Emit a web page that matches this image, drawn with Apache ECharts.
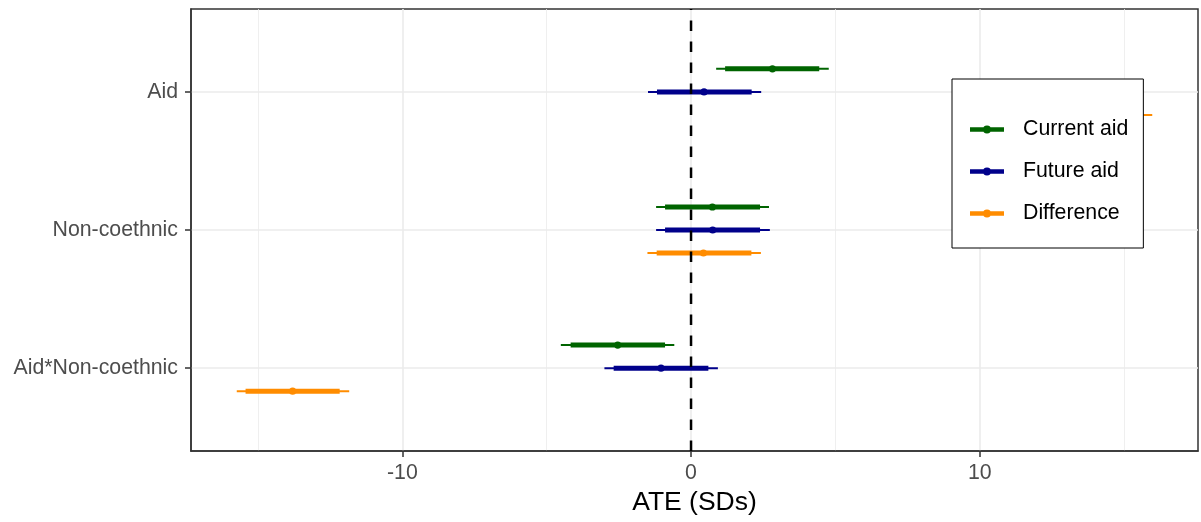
<!DOCTYPE html>
<html>
<head>
<meta charset="utf-8">
<script src="https://cdn.jsdelivr.net/npm/echarts@6/dist/echarts.min.js"></script>
<style>
  html, body { margin: 0; padding: 0; background: #fff; }
  #chart { width: 1201px; height: 522px; }
</style>
</head>
<body>
<div id="chart"></div>
<script>
// categories, top to bottom
const categories = ['Aid', 'Non-coethnic', 'Aid*Non-coethnic'];
const groups = ['Current aid', 'Future aid', 'Difference'];

// point estimates and intervals (wide = thin line, narrow = thick line)
const currentEst    = [2.82, 0.74, -2.54];
const currentLoWide = [0.87, -1.21, -4.51];
const currentHiWide = [4.77, 2.70, -0.58];
const currentLo     = [1.18, -0.90, -4.17];
const currentHi     = [4.44, 2.39, -0.90];

const futureEst    = [0.45, 0.75, -1.04];
const futureLoWide = [-1.49, -1.21, -3.00];
const futureHiWide = [2.43, 2.73, 0.93];
const futureLo     = [-1.18, -0.90, -2.68];
const futureHi     = [2.10, 2.39, 0.60];

const diffEst    = [14.0, 0.43, -13.80];
const diffLoWide = [12.03, -1.51, -15.735];
const diffHiWide = [15.975, 2.42, -11.84];
const diffLo     = [12.37, -1.19, -15.43];
const diffHi     = [15.63, 2.09, -12.17];

const xTickLabels = [-10, 0, 10];

const colors = ['#006400', '#00008b', '#ff8c00'];
const font = "'Liberation Sans', Arial, Helvetica, sans-serif";
const dodge = 0.5;

const chart = echarts.init(document.getElementById('chart'));

function build(est, loW, hiW, lo, hi, gi) {
  // green on top, orange below
  const off = (1 - gi) * dodge / 3;
  return est.map((v, i) => [v, loW[i], hiW[i], lo[i], hi[i], categories.length - i + off]);
}

function renderItem(params, api) {
  const y = api.value(5);
  const p = api.coord([api.value(0), y]);
  const a = api.coord([api.value(1), y]);
  const b = api.coord([api.value(2), y]);
  const c = api.coord([api.value(3), y]);
  const d = api.coord([api.value(4), y]);
  const color = api.visual('color');
  return {
    type: 'group',
    children: [
      { type: 'line', shape: { x1: a[0], y1: a[1], x2: b[0], y2: b[1] }, style: { stroke: color, lineWidth: 2 } },
      { type: 'line', shape: { x1: c[0], y1: c[1], x2: d[0], y2: d[1] }, style: { stroke: color, lineWidth: 5 } },
      { type: 'circle', shape: { cx: p[0], cy: p[1], r: 3.6 }, style: { fill: color } }
    ]
  };
}

const seriesData = [
  build(currentEst, currentLoWide, currentHiWide, currentLo, currentHi, 0),
  build(futureEst, futureLoWide, futureHiWide, futureLo, futureHi, 1),
  build(diffEst, diffLoWide, diffHiWide, diffLo, diffHi, 2)
];

const yMin = 0.4, yMax = categories.length + 0.6;
const legendIcon = 'path://M0,1.75h34v4.5h-34z M13,4a4,4 0 1,1 8,0a4,4 0 1,1 -8,0z';

chart.setOption({
  animation: false,
  backgroundColor: '#fff',
  textStyle: { fontFamily: font },
  grid: {
    left: 191, right: 3, top: 9, bottom: 71,
    show: true, borderColor: '#333', borderWidth: 1.5, backgroundColor: 'transparent'
  },
  legend: {
    data: groups.map((g, i) => ({ name: g, icon: legendIcon, itemStyle: { color: colors[i], borderWidth: 0 } })),
    orient: 'vertical',
    left: 952, top: 79,
    padding: [40, 15, 24, 18],
    itemGap: 21,
    itemWidth: 34, itemHeight: 8,
    backgroundColor: '#fff',
    borderColor: '#000', borderWidth: 1, borderRadius: 0,
    selectedMode: false,
    textStyle: { fontFamily: font, fontSize: 21.3, color: '#000', lineHeight: 21, padding: [0, 0, 0, 14] },
    z: 10
  },
  xAxis: {
    type: 'value',
    min: -17.32, max: 17.56,
    splitNumber: 4,
    name: 'ATE (SDs)',
    nameLocation: 'middle',
    nameGap: 37,
    nameTextStyle: { fontFamily: font, fontSize: 26.5, color: '#000' },
    axisLine: { show: true, onZero: false, lineStyle: { color: '#333', width: 1.5 } },
    axisTick: { show: true, customValues: xTickLabels, length: 6, lineStyle: { color: '#333', width: 1.5 } },
    axisLabel: { customValues: xTickLabels, margin: 12, fontFamily: font, fontSize: 21.3, color: '#4d4d4d' },
    splitLine: { show: true, lineStyle: { color: '#ebebeb', width: 1.6 } },
    minorTick: { show: false, splitNumber: 2 },
    minorSplitLine: { show: true, lineStyle: { color: '#ebebeb', width: 0.8 } }
  },
  yAxis: {
    type: 'value',
    min: yMin, max: yMax,
    splitNumber: 3,
    axisLine: { show: true, onZero: false, lineStyle: { color: '#333', width: 1.5 } },
    axisTick: { show: true, customValues: [1, 2, 3], length: 6, lineStyle: { color: '#333', width: 1.5 } },
    axisLabel: {
      customValues: [1, 2, 3],
      margin: 13,
      padding: [2, 0, 0, 0],
      fontFamily: font, fontSize: 21.3, color: '#4d4d4d',
      formatter: v => categories[categories.length - Math.round(v)] || ''
    },
    splitLine: { show: true, lineStyle: { color: '#ebebeb', width: 1.6 } }
  },
  series: groups.map((g, i) => ({
    name: g,
    type: 'custom',
    renderItem: renderItem,
    itemStyle: { color: colors[i] },
    encode: { x: [0, 1, 2, 3, 4], y: 5 },
    data: seriesData[i],
    z: 3
  })).concat([{
    type: 'line',
    data: [[0, yMin], [0, yMax]],
    symbol: 'none',
    silent: true,
    z: 5,
    lineStyle: { color: '#000', width: 2.5, type: [10.5, 10.5] }
  }])
});
</script>
</body>
</html>
